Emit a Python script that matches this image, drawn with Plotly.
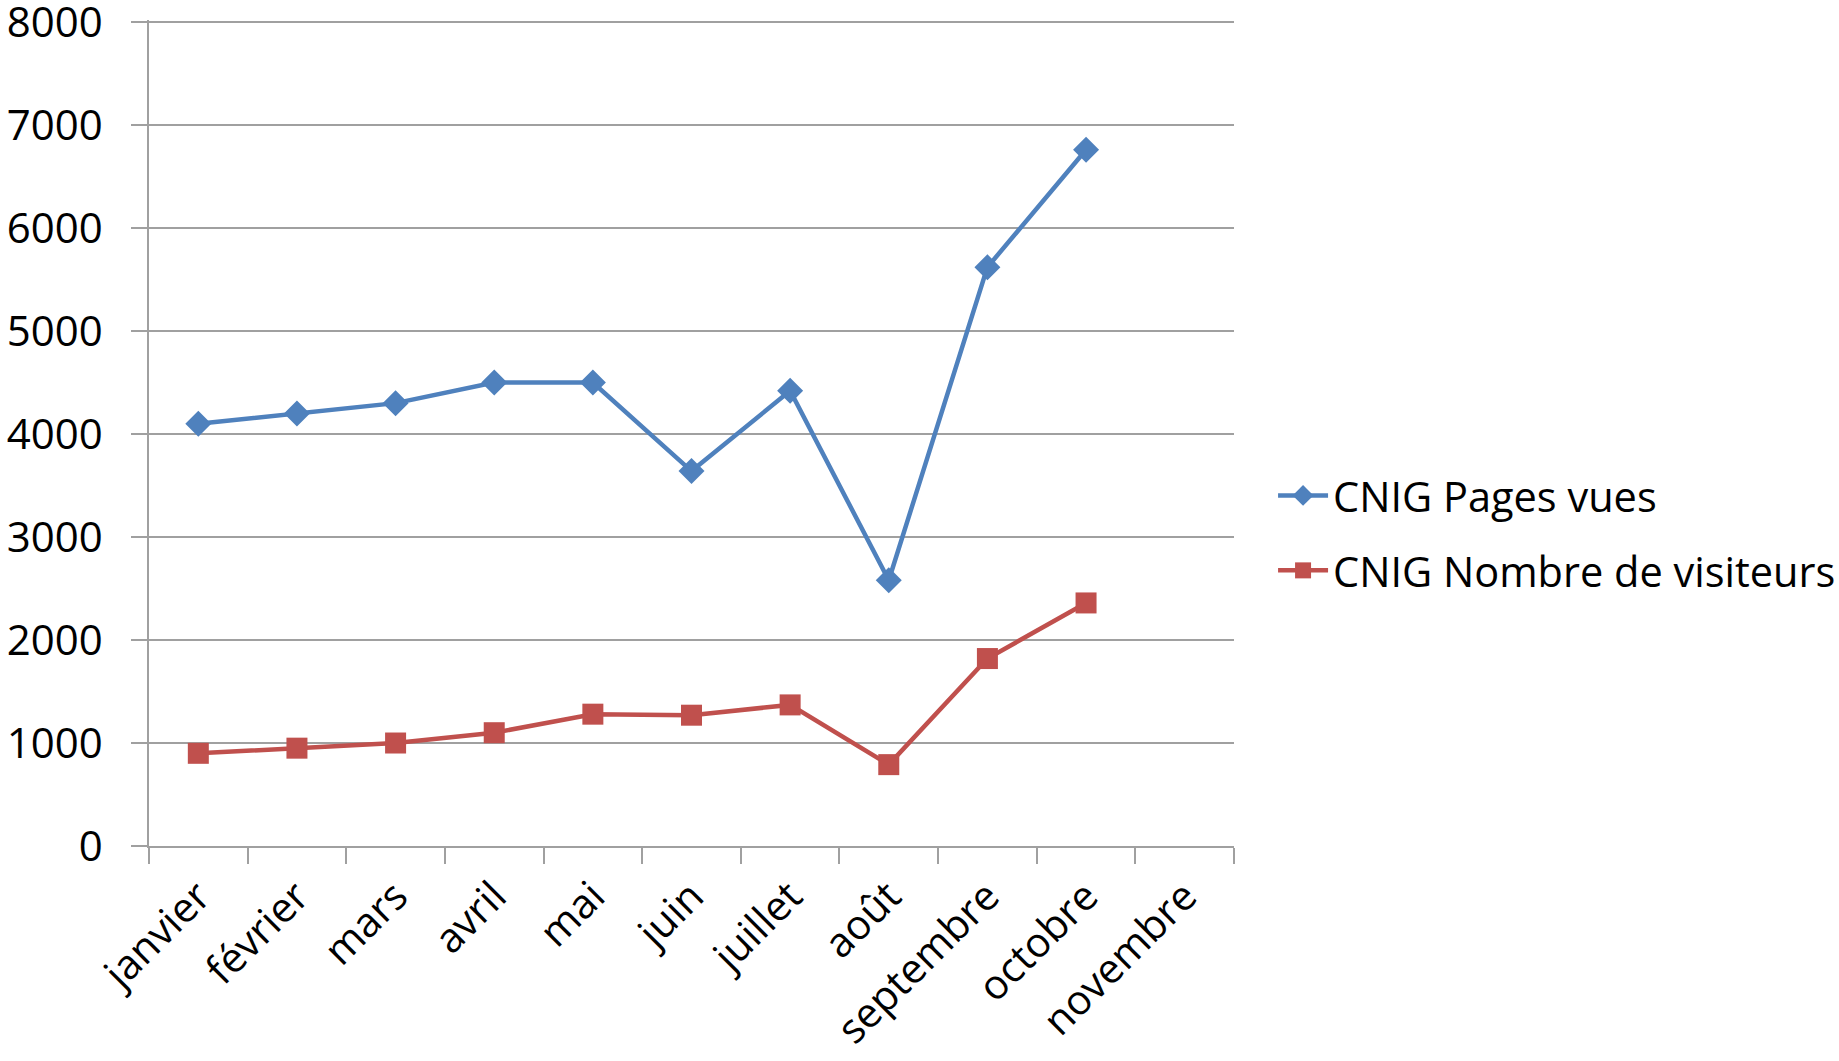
import plotly.graph_objects as go

months = ["janvier", "février", "mars", "avril", "mai", "juin", "juillet",
          "août", "septembre", "octobre", "novembre"]
pages_vues = [4100, 4200, 4300, 4500, 4500, 3640, 4420, 2580, 5620, 6760, None]
visiteurs = [900, 950, 1000, 1100, 1280, 1270, 1370, 790, 1820, 2360, None]
y_ticks = [0, 1000, 2000, 3000, 4000, 5000, 6000, 7000, 8000]

BLUE = "#4F81BD"
RED = "#C0504D"
GRID = "#A0A0A0"
FONT = "Open Sans"

fig = go.Figure()
fig.add_trace(go.Scatter(
    x=months, y=pages_vues, name="CNIG Pages vues", mode="lines+markers",
    line=dict(color=BLUE, width=4.5),
    marker=dict(symbol="diamond", size=20, color=BLUE),
    legendgroup="a",
))
fig.add_trace(go.Scatter(
    x=months, y=visiteurs, name="CNIG Nombre de visiteurs", mode="lines+markers",
    line=dict(color=RED, width=4.5),
    marker=dict(symbol="square", size=21, color=RED),
    legendgroup="b",
))

fig.update_layout(
    width=1839, height=1061, autosize=False,
    margin=dict(l=149, r=605, t=20, b=215, autoexpand=False),
    paper_bgcolor="white", plot_bgcolor="white",
    font=dict(family=FONT, size=42, color="black"),
    showlegend=True,
    legend=dict(
        x=1.036, y=0.379, xanchor="left", yanchor="middle",
        font=dict(family=FONT, size=41.5, color="black"),
        tracegroupgap=18, traceorder="grouped",
        itemwidth=50, bgcolor="rgba(0,0,0,0)",
    ),
    xaxis=dict(
        type="category", categoryorder="array", categoryarray=months,
        range=[-0.5, len(months) - 0.5],
        tickson="boundaries", ticks="outside", ticklen=16,
        tickcolor=GRID, tickwidth=1.5,
        showgrid=False, showline=True, linecolor=GRID, linewidth=1.5,
        tickangle=-45, tickfont=dict(family=FONT, size=41),
        ticklabelstandoff=8, zeroline=False, automargin=False,
        ticklabeloverflow="allow",
    ),
    yaxis=dict(
        range=[0, 8020], tickmode="array", tickvals=y_ticks,
        ticktext=[str(v) for v in y_ticks],
        ticks="outside", ticklen=16, tickcolor=GRID, tickwidth=1.5,
        showgrid=True, gridcolor=GRID, gridwidth=1.5,
        showline=True, linecolor=GRID, linewidth=1.5,
        zeroline=False, tickfont=dict(family=FONT, size=42),
        ticklabelstandoff=20, automargin=False,
        ticklabeloverflow="allow",
    ),
)

fig.write_html("out.html", config={"displayModeBar": False},
               post_script="document.body.style.margin='0';")
